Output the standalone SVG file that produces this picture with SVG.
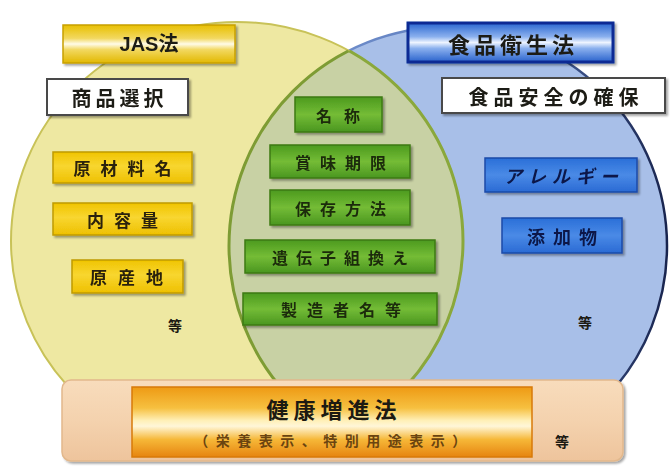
<svg xmlns="http://www.w3.org/2000/svg" width="671" height="474" viewBox="0 0 671 474">
<defs>
  <style>
    text { font-family: "Noto Sans CJK JP", "Noto Sans", sans-serif; font-weight: 700; text-anchor: middle; dominant-baseline: central; }
    .dark { fill: #1c1a12; }
    .g { fill: #1a2a08; font-size: 16px; }
    .y { fill: #2a2008; font-size: 17px; }
    .b { fill: #0a1848; font-size: 18px; }
    .gbox { fill: url(#gGrad); stroke: #3d7a14; stroke-width: 1.5; }
    .ybox { fill: url(#yGrad); stroke: #c09a00; stroke-width: 1.5; }
    .bbox { fill: url(#bGrad); stroke: #1c4aa8; stroke-width: 1.5; }
    .wbox { fill: #ffffff; stroke: #4a4a4a; stroke-width: 2; }
  </style>
  <linearGradient id="gGrad" x1="0" y1="0" x2="0" y2="1">
    <stop offset="0" stop-color="#4c9a1e"/>
    <stop offset="0.5" stop-color="#74bc36"/>
    <stop offset="1" stop-color="#4a9620"/>
  </linearGradient>
  <linearGradient id="yGrad" x1="0" y1="0" x2="0" y2="1">
    <stop offset="0" stop-color="#f0c400"/>
    <stop offset="0.45" stop-color="#f8d630"/>
    <stop offset="1" stop-color="#eec000"/>
  </linearGradient>
  <linearGradient id="bGrad" x1="0" y1="0" x2="0" y2="1">
    <stop offset="0" stop-color="#2a6fd8"/>
    <stop offset="0.5" stop-color="#4a8ae6"/>
    <stop offset="1" stop-color="#2a6ad4"/>
  </linearGradient>
  <linearGradient id="jasGrad" x1="0" y1="0" x2="0" y2="1">
    <stop offset="0" stop-color="#e8c000"/>
    <stop offset="0.35" stop-color="#f2d860"/>
    <stop offset="0.5" stop-color="#fffbe8"/>
    <stop offset="0.65" stop-color="#f2d860"/>
    <stop offset="1" stop-color="#e2b800"/>
  </linearGradient>
  <linearGradient id="shokuGrad" x1="0" y1="0" x2="0" y2="1">
    <stop offset="0" stop-color="#2a66d0"/>
    <stop offset="0.35" stop-color="#8ab0ee"/>
    <stop offset="0.5" stop-color="#eef4ff"/>
    <stop offset="0.65" stop-color="#8ab0ee"/>
    <stop offset="1" stop-color="#2a62cc"/>
  </linearGradient>
  <linearGradient id="barGrad" x1="0" y1="0" x2="0" y2="1">
    <stop offset="0" stop-color="#f8dcbc"/>
    <stop offset="0.5" stop-color="#f4d2ae"/>
    <stop offset="1" stop-color="#eec49c"/>
  </linearGradient>
  <linearGradient id="orGrad" x1="0" y1="0" x2="0" y2="1">
    <stop offset="0" stop-color="#ee9a14"/>
    <stop offset="0.3" stop-color="#f6c040"/>
    <stop offset="0.48" stop-color="#fff0b8"/>
    <stop offset="0.56" stop-color="#fff6d8"/>
    <stop offset="0.75" stop-color="#f6b838"/>
    <stop offset="1" stop-color="#e68410"/>
  </linearGradient>
  <linearGradient id="blueStroke" x1="0" y1="0" x2="1" y2="0">
    <stop offset="0" stop-color="#7c9cd8"/>
    <stop offset="0.6" stop-color="#5a78b8"/>
    <stop offset="1" stop-color="#18244e"/>
  </linearGradient>
  <clipPath id="clipY">
    <ellipse cx="237" cy="241" rx="226" ry="219"/>
  </clipPath>
  <clipPath id="clipB">
    <circle cx="448" cy="246" r="219"/>
  </clipPath>
  <clipPath id="clipTop">
    <rect x="0" y="0" width="671" height="386"/>
  </clipPath>
  <filter id="sh" x="-10%" y="-20%" width="125%" height="150%">
    <feDropShadow dx="2" dy="2" stdDeviation="1" flood-color="#000" flood-opacity="0.35"/>
  </filter>
</defs>

<rect x="0" y="0" width="671" height="474" fill="#ffffff"/>

<g id="circles" clip-path="url(#clipTop)">
  <circle id="circle-shokuhin" cx="448" cy="246" r="219" fill="#a8bfe8" stroke="url(#blueStroke)" stroke-width="2.5"/>
  <ellipse id="circle-jas" cx="237" cy="241" rx="226" ry="219" fill="#eee8a2" stroke="#c8c258" stroke-width="2"/>
  <g id="lens">
    <circle cx="448" cy="246" r="219" fill="#c8d1a4" stroke="#7e9c34" stroke-width="3" clip-path="url(#clipY)"/>
    <ellipse cx="237" cy="241" rx="226" ry="219" fill="none" stroke="#8aa83c" stroke-width="3" clip-path="url(#clipB)"/>
  </g>
</g>

<g id="node-jas" filter="url(#sh)">
  <rect x="63" y="25" width="172" height="38" fill="url(#jasGrad)" stroke="#c8a000" stroke-width="1.5"/>
  <text x="149" y="44" class="dark" font-size="20" style="font-family:'Liberation Sans','Noto Sans CJK JP',sans-serif">JAS法</text>
</g>

<g id="node-shohin" filter="url(#sh)">
  <rect x="47" y="79" width="141" height="36" class="wbox"/>
  <text x="119.5" y="97" class="dark" font-size="20" letter-spacing="4">商品選択</text>
</g>

<g id="node-shokuei" filter="url(#sh)">
  <rect x="408" y="23" width="205" height="39" fill="url(#shokuGrad)" stroke="#0c2c94" stroke-width="3"/>
  <text x="513" y="43" class="dark" font-size="22" letter-spacing="4">食品衛生法</text>
</g>

<g id="node-anzen" filter="url(#sh)">
  <rect x="442" y="78" width="223" height="35" class="wbox"/>
  <text x="556" y="96" class="dark" font-size="20" letter-spacing="5">食品安全の確保</text>
</g>

<g id="node-meisho" filter="url(#sh)">
  <rect x="295" y="97" width="87" height="35" class="gbox"/>
  <text x="344" y="114.5" class="g" letter-spacing="12">名称</text>
</g>
<g id="node-shomi" filter="url(#sh)">
  <rect x="270" y="145" width="140" height="33" class="gbox"/>
  <text x="345" y="161.5" class="g" letter-spacing="9">賞味期限</text>
</g>
<g id="node-hozon" filter="url(#sh)">
  <rect x="270" y="190" width="140" height="35" class="gbox"/>
  <text x="345" y="207.5" class="g" letter-spacing="9">保存方法</text>
</g>
<g id="node-idenshi" filter="url(#sh)">
  <rect x="245" y="240" width="190" height="33" class="gbox"/>
  <text x="344" y="256.5" class="g" letter-spacing="8">遺伝子組換え</text>
</g>
<g id="node-seizo" filter="url(#sh)">
  <rect x="243" y="293" width="194" height="32" class="gbox"/>
  <text x="346" y="309" class="g" letter-spacing="10">製造者名等</text>
</g>

<g id="node-genzai" filter="url(#sh)">
  <rect x="53" y="152" width="139" height="31" class="ybox"/>
  <text x="127.5" y="167.5" class="y" letter-spacing="10">原材料名</text>
</g>
<g id="node-naiyo" filter="url(#sh)">
  <rect x="53" y="203" width="139" height="32" class="ybox"/>
  <text x="127.5" y="219" class="y" letter-spacing="10">内容量</text>
</g>
<g id="node-gensan" filter="url(#sh)">
  <rect x="72" y="260" width="111" height="33" class="ybox"/>
  <text x="132" y="276.5" class="y" letter-spacing="11">原産地</text>
</g>
<text id="etc-jas" x="175" y="325" class="dark" font-size="14">等</text>

<g id="node-allergy" filter="url(#sh)">
  <rect x="485" y="158" width="152" height="34" class="bbox"/>
  <text x="564" y="175" class="b" letter-spacing="6" font-style="italic">アレルギー</text>
</g>
<g id="node-tenka" filter="url(#sh)">
  <rect x="502" y="218" width="120" height="35" class="bbox"/>
  <text x="566" y="235.5" class="b" letter-spacing="8">添加物</text>
</g>
<text id="etc-shokuei" x="585" y="322" class="dark" font-size="14">等</text>

<g id="node-kenko">
  <rect x="62" y="380" width="561" height="81" rx="9" fill="url(#barGrad)" stroke="#e2b88c" stroke-width="1.5" filter="url(#sh)"/>
  <rect x="132" y="387" width="400" height="70" fill="url(#orGrad)" stroke="#d87a08" stroke-width="1.5"/>
  <text x="334" y="408" class="dark" font-size="22" letter-spacing="5">健康増進法</text>
  <text x="334" y="440" font-size="14" letter-spacing="7.5" fill="#6a4410">（栄養表示、特別用途表示）</text>
  <text x="562" y="441" class="dark" font-size="14">等</text>
</g>

<g id="connectors"></g>
</svg>
